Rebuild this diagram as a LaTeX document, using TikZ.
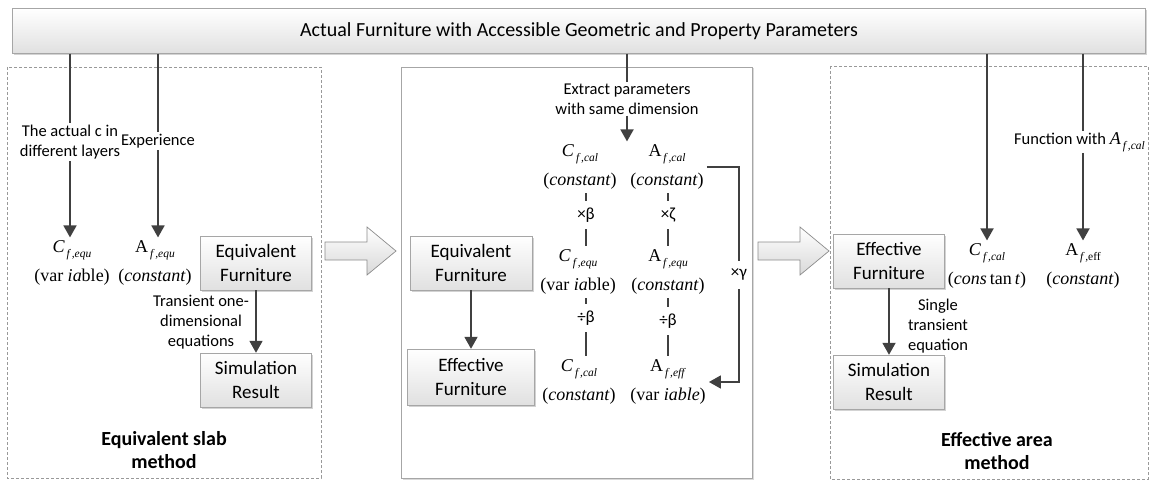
\documentclass[tikz,border=0pt]{standalone}
\usepackage{fontspec}
\setmainfont{Carlito}
\newfontfamily\tms{Liberation Serif}
\usetikzlibrary{arrows.meta,shadows,positioning}
\tikzset{
  furn/.style={draw=black!35, top color=white, bottom color=black!12,
    drop shadow={shadow xshift=1.5pt,shadow yshift=-1.5pt,opacity=0.35},
    minimum width=111, minimum height=54, align=center,
    font=\fontsize{19}{24}\selectfont, inner sep=1pt},
  topbox/.style={furn, minimum width=1133, minimum height=45,
    font=\fontsize{20}{22}\selectfont},
  note/.style={align=center, font=\fontsize{16.5}{20}\selectfont, inner sep=2pt},
  param/.style={align=center, font=\tms\fontsize{18}{29}\selectfont, inner sep=3pt},
  mult/.style={font=\fontsize{17}{18}\selectfont, inner sep=1pt, minimum height=28, fill=white},
  wire/.style={draw=black!75, line width=1.8pt},
  link/.style={wire, -{Triangle[length=12pt,width=13pt]}},
  tickline/.style={draw=black!75, line width=1.2pt},
  panel/.style={draw=black!40, dash pattern=on 3pt off 2pt, line width=0.6pt},
  hollow/.style={draw=black!45, top color=white, bottom color=black!15, line width=0.7pt},
  method/.style={align=center, font=\fontsize{20}{23}\selectfont\bfseries}
}
\newcommand\sub[1]{\raisebox{-0.6ex}{\fontsize{11.5}{12}\selectfont\,#1}}
\begin{document}
\begin{tikzpicture}[x=1pt,y=-1pt]
  \useasboundingbox (0,0) rectangle (1150,481);
  % panels
  \draw[panel] (7,67) rectangle (321,478);
  \draw[draw=black!35, line width=0.8pt, fill=white,
    drop shadow={shadow xshift=1.5pt,shadow yshift=-1.5pt,opacity=0.3}] (401,67) rectangle (752,478);
  \draw[panel] (830,66) rectangle (1148,479);
  % hollow arrows between panels
  \foreach \x in {325,758}
    \draw[hollow, xshift=\x] (0,242) -- (42,242) -- (42,227) -- (71,251)
      -- (42,275) -- (42,260) -- (0,260) -- cycle;
  % top box
  \node[topbox] (top) at (579,31) {Actual Furniture with Accessible Geometric and Property Parameters};

  % equivalent slab method
  \node[note] (lc) at (70,142) {The actual c in\\different layers};
  \node[note] (le) at (158,141) {Experience};
  \node[param] (cequ) at (72,263) {\textit{C}\sub{\textit{f\,,equ}}\\(var \textit{ia}ble)};
  \node[param] (aequ) at (155,263) {A\sub{\textit{f\,,equ}}\\(\textit{constant})};
  \node[furn] (eqf) at (256,263) {Equivalent\\Furniture};
  \node[furn] (sim) at (256,380) {Simulation\\Result};
  \node[note] (tr) at (201,322) {Transient one-\\dimensional\\equations};
  \node[method] (m1) at (164,450) {Equivalent slab\\method};
  \draw[wire] (top.south -| lc) -- (lc.north);
  \draw[link] (lc.south) -- (lc |- cequ.north);
  \draw[wire] (top.south -| le) -- (le.north);
  \draw[link] (le.south) -- (le |- aequ.north);
  \draw[link] (eqf) -- (sim);

  % conversion
  \node[note, inner sep=1pt] (ext) at (627,99) {Extract parameters\\with same dimension};
  \node[param] (ccal1) at (580,167) {\textit{C}\sub{\textit{f\,,cal}}\\(\textit{constant})};
  \node[param] (acal1) at (667,167) {A\sub{\textit{f\,,cal}}\\(\textit{constant})};
  \node[param] (cequ2) at (578,272) {\textit{C}\sub{\textit{f\,,equ}}\\(var \textit{ia}ble)};
  \node[param] (aequ2) at (668,272) {A\sub{\textit{f\,,equ}}\\(\textit{constant})};
  \node[param] (ccal2) at (579,382) {\textit{C}\sub{\textit{f\,,cal}}\\(\textit{constant})};
  \node[param] (aeff) at (668,382) {A\sub{\textit{f\,,eff}}\\(var \textit{iable})};
  \node[mult] (xb) at (586,215) {×β};
  \node[mult] (xz) at (668,215) {×ζ};
  \node[mult] (db1) at (586,318) {÷β};
  \node[mult] (db2) at (668,321) {÷β};
  \node[furn, minimum width=122] (eqf2) at (471,263) {Equivalent\\Furniture};
  \node[furn, minimum width=127, minimum height=56] (eff2) at (471,377) {Effective\\Furniture};
  \draw[wire] (top.south -| ext) -- (ext.north);
  \draw[link] (ext.south) -- (ext |- ccal1.north);
  \draw[tickline] (xb.north) -- (xb |- ccal1.south);
  \draw[tickline] (xb.south) -- (xb |- cequ2.north);
  \draw[tickline] (xz.north) -- (xz |- acal1.south);
  \draw[tickline] (xz.south) -- (xz |- aequ2.north);
  \draw[tickline] (db1.north) -- (db1 |- cequ2.south);
  \draw[tickline] (db1.south) -- (db1 |- ccal2.north);
  \draw[tickline] (db2.north) -- (db2 |- aequ2.south);
  \draw[tickline] (db2.south) -- (db2 |- aeff.north);
  \draw[link] (acal1.east) -- ++(32,0) |- (aeff.east)
    node[mult, pos=0.25] (xg) {×γ};
  \draw[link] (eqf2) -- (eff2);

  % effective area method
  \node[furn] (eff3) at (889,261) {Effective\\Furniture};
  \node[furn] (sim3) at (889,382) {Simulation\\Result};
  \node[note] (single) at (938,326) {Single\\transient\\equation};
  \node[param] (ccal3) at (987,266) {\textit{C}\sub{\textit{f\,,cal}}\\(\textit{cons}\,tan\,\textit{t})};
  \node[param] (aeff3) at (1083,266) {A\sub{\textit{f\,,}eff}\\(\textit{constant})};
  \node[note, fill=white, anchor=east, inner sep=1pt] (func) at (1146,142) {Function with {\tms\fontsize{18}{20}\selectfont\textit{A}\sub{\textit{f\,,cal}}}};
  \node[method] (m3) at (997,451) {Effective area\\method};
  \draw[link] (top.south -| ccal3) -- (ccal3.north);
  \draw[wire] (top.south -| aeff3) -- (aeff3 |- func.north);
  \draw[link] (aeff3 |- func.south) -- (aeff3.north);
  \draw[link] (eff3) -- (sim3);
\end{tikzpicture}
\end{document}
